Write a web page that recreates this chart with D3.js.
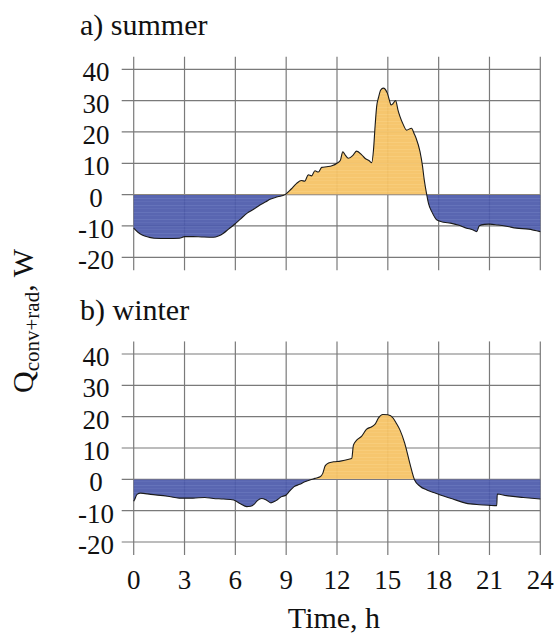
<!DOCTYPE html>
<html>
<head>
<meta charset="utf-8">
<script src="https://cdn.jsdelivr.net/npm/d3@7"></script>
</head>
<body style="margin:0">
<script>
// ticks
var hourTicks = [0, 3, 6, 9, 12, 15, 18, 21, 24];
var qTicks = [-20, -10, 0, 10, 20, 30, 40];

// summer curve (time in h, Q in W)
var summerT = [0, 0.25, 0.5, 0.9, 1.2, 2.0, 2.7, 3.0, 3.5, 4.0, 4.7, 5.0, 5.3, 5.6, 5.9, 6.3, 6.7, 7.1, 7.45, 7.8,
  8.05, 8.5, 8.93, 9.3, 9.62, 9.9, 10.1, 10.3, 10.5, 10.7, 10.9, 11.1, 11.4, 11.7, 12.0, 12.2, 12.34, 12.5, 12.67,
  12.95, 13.16, 13.46, 13.65, 13.9, 14.05, 14.15, 14.25, 14.34, 14.45, 14.58, 14.73, 14.97, 15.1, 15.19, 15.3, 15.46,
  15.6, 15.72, 15.9, 16.11, 16.4, 16.55, 16.67, 16.9, 17.05, 17.15, 17.3, 17.4, 17.6, 17.9, 18.3, 18.7, 19.2, 19.65,
  20.0, 20.25, 20.4, 20.7, 21.0, 21.5, 22.0, 22.6, 23.3, 24];
var summerQ = [-10.7, -12.0, -12.9, -13.6, -13.9, -14.0, -13.9, -13.4, -13.4, -13.5, -13.6, -13.2, -12.3, -11.0, -9.7,
  -7.8, -5.9, -4.6, -3.3, -2.3, -1.5, -0.7, 0, 1.8, 3.6, 4.5, 4.3, 6.3, 6.0, 7.6, 7.2, 8.7, 8.9, 9.2, 10.0, 11.0, 13.7,
  12.5, 11.6, 12.6, 13.9, 12.7, 11.6, 10.8, 10.2, 14.0, 22.0, 28.1, 31.0, 33.4, 34.0, 32.4, 30.0, 28.6, 29.0, 30.0,
  27.0, 24.9, 22.5, 20.6, 21.2, 19.5, 18.0, 13.7, 9.0, 4.7, -0.1, -2.8, -5.5, -8.1, -8.8, -9.1, -9.8, -10.7, -11.2,
  -11.8, -9.9, -9.5, -9.4, -9.7, -10.1, -10.7, -11.0, -11.8];

// winter curve
var winterT = [0, 0.05, 0.2, 0.4, 1.0, 2.0, 2.7, 3.5, 4.2, 4.7, 5.3, 5.9, 6.3, 6.67, 6.9, 7.1, 7.3, 7.55, 7.8, 8.1,
  8.4, 8.7, 9.0, 9.2, 9.45, 9.8, 10.1, 10.4, 10.7, 11.0, 11.16, 11.3, 11.5, 11.8, 12.2, 12.7, 12.87, 12.97, 13.16,
  13.46, 13.75, 14.05, 14.25, 14.45, 14.7, 15.0, 15.32, 15.5, 15.72, 16.0, 16.3, 16.58, 16.9, 17.3, 17.7, 18.1, 18.8,
  19.6, 20.4, 21.0, 21.43, 21.46, 22.0, 23.0, 24];
var winterQ = [-7.0, -6.5, -4.8, -4.4, -4.8, -5.4, -6.0, -6.0, -5.8, -6.1, -6.3, -6.6, -7.8, -8.7, -8.6, -8.0, -6.8,
  -6.1, -6.5, -7.5, -6.8, -5.6, -5.0, -3.8, -2.4, -1.6, -0.8, -0.2, 0.3, 0.8, 1.9, 4.3, 5.2, 5.6, 5.8, 6.4, 6.7, 10.9,
  12.5, 13.8, 16.0, 16.8, 17.6, 19.6, 20.7, 20.6, 19.5, 17.9, 15.7, 11.5, 5.1, -0.2, -2.2, -3.4, -4.2, -5.0, -6.2,
  -7.6, -8.1, -8.3, -8.4, -4.7, -5.2, -5.8, -6.3];

var panelLabels = ["a) summer", "b) winter"];

var W = 555, H = 635;
var left = 133.7, right = 540.3;
var tops = [69.3, 354];
var plotH = 188;
var FONT = "Liberation Serif";

var svg = d3.select("body").append("svg")
  .attr("width", W)
  .attr("height", H);

var defs = svg.append("defs");

// faint horizontal streaks like the original fills
function streakPattern(id, base, light) {
  var p = defs.append("pattern")
    .attr("id", id)
    .attr("patternUnits", "userSpaceOnUse")
    .attr("width", 40)
    .attr("height", 7);
  p.append("rect").attr("width", 40).attr("height", 7).attr("fill", base);
  p.append("rect").attr("y", 2).attr("width", 40).attr("height", 1).attr("fill", light).attr("opacity", 0.35);
  p.append("rect").attr("y", 5).attr("width", 40).attr("height", 1).attr("fill", light).attr("opacity", 0.2);
}
streakPattern("blueFill", "#4c5aab", "#7180c8");
streakPattern("yellowFill", "#f6c366", "#fbd78f");

var x = d3.scaleLinear().domain([0, 24]).range([left, right]);

function drawPanel(i, times, values) {
  var top = tops[i];
  var y = d3.scaleLinear().domain([-20, 40]).range([top + plotH, top]);
  var g = svg.append("g");

  var pts = times.map(function(t, k) { return [t, values[k]]; });

  // grid
  g.selectAll(".hgrid")
    .data(qTicks)
    .enter()
    .append("line")
    .attr("x1", left - 12)
    .attr("x2", right)
    .attr("y1", function(d) { return y(d); })
    .attr("y2", function(d) { return y(d); })
    .attr("stroke", "#7a7a7a")
    .attr("stroke-width", 1.2);

  g.selectAll(".vgrid")
    .data(hourTicks)
    .enter()
    .append("line")
    .attr("x1", function(d) { return x(d); })
    .attr("x2", function(d) { return x(d); })
    .attr("y1", top - 12.6)
    .attr("y2", top + plotH + 13)
    .attr("stroke", "#7a7a7a")
    .attr("stroke-width", 1.2);

  // fills: yellow above zero, blue below
  var clipUp = "clipUp" + i, clipDown = "clipDown" + i;
  defs.append("clipPath").attr("id", clipUp)
    .append("rect").attr("x", 0).attr("y", 0).attr("width", W).attr("height", y(0));
  defs.append("clipPath").attr("id", clipDown)
    .append("rect").attr("x", 0).attr("y", y(0)).attr("width", W).attr("height", H);

  var area = d3.area()
    .x(function(d) { return x(d[0]); })
    .y0(y(0))
    .y1(function(d) { return y(d[1]); })
    .curve(d3.curveMonotoneX);

  g.append("path")
    .datum(pts)
    .attr("d", area)
    .attr("fill", "url(#yellowFill)")
    .attr("opacity", 0.95)
    .attr("clip-path", "url(#" + clipUp + ")");

  g.append("path")
    .datum(pts)
    .attr("d", area)
    .attr("fill", "url(#blueFill)")
    .attr("opacity", 0.93)
    .attr("clip-path", "url(#" + clipDown + ")");

  var line = d3.line()
    .x(function(d) { return x(d[0]); })
    .y(function(d) { return y(d[1]); })
    .curve(d3.curveMonotoneX);

  g.append("path")
    .datum(pts)
    .attr("d", line)
    .attr("fill", "none")
    .attr("stroke", "#1a1a1a")
    .attr("stroke-width", 1.1);

  // y tick labels
  g.selectAll(".ylab")
    .data(qTicks)
    .enter()
    .append("text")
    .attr("x", 96)
    .attr("y", function(d) { return y(d) + 12; })
    .attr("text-anchor", "middle")
    .attr("font-family", FONT)
    .attr("font-size", 27)
    .attr("fill", "#111")
    .text(function(d) { return d < 0 ? "-" + Math.abs(d) : d; });

  // panel title
  g.append("text")
    .attr("x", 80)
    .attr("y", top - 34.5)
    .attr("font-family", FONT)
    .attr("font-size", 30)
    .attr("fill", "#111")
    .text(panelLabels[i]);
}

drawPanel(0, summerT, summerQ);
drawPanel(1, winterT, winterQ);

// x tick labels under the bottom panel
svg.selectAll(".xlab")
  .data(hourTicks)
  .enter()
  .append("text")
  .attr("x", function(d) { return x(d); })
  .attr("y", 589)
  .attr("text-anchor", "middle")
  .attr("font-family", FONT)
  .attr("font-size", 27)
  .attr("fill", "#111")
  .text(function(d) { return d; });

svg.append("text")
  .attr("x", 334)
  .attr("y", 628)
  .attr("text-anchor", "middle")
  .attr("font-family", FONT)
  .attr("font-size", 30)
  .attr("fill", "#111")
  .text("Time, h");

// y axis title with subscript
var yt = svg.append("text")
  .attr("transform", "translate(33,321) rotate(-90)")
  .attr("text-anchor", "middle")
  .attr("font-family", FONT)
  .attr("font-size", 30)
  .attr("fill", "#111");
yt.append("tspan").text("Q");
yt.append("tspan").attr("dy", 6).attr("font-size", 21).text("conv+rad");
yt.append("tspan").attr("dy", -6).text(", W");
</script>
</body>
</html>
